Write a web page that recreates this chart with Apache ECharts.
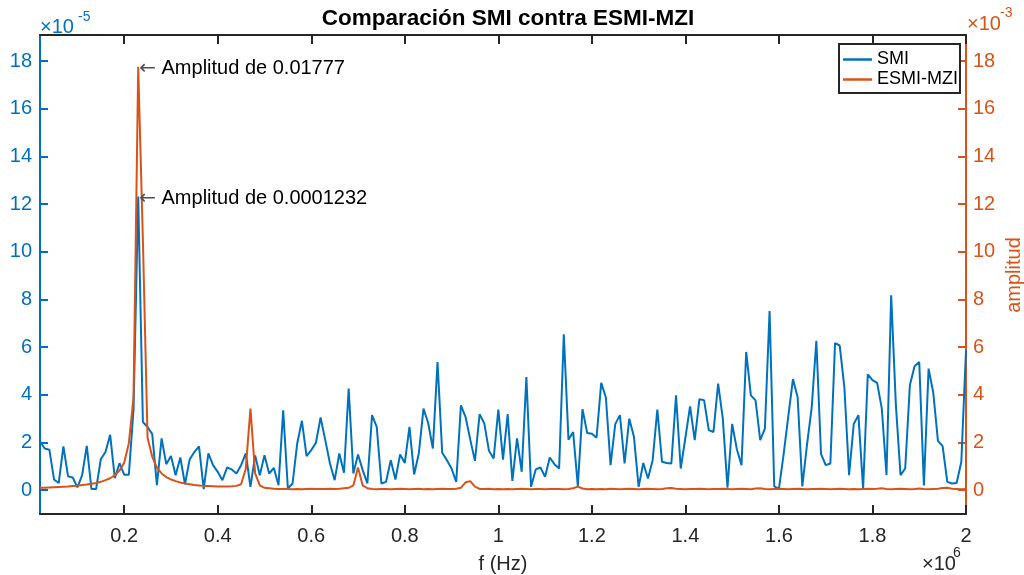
<!DOCTYPE html>
<html>
<head>
<meta charset="utf-8">
<script src="https://cdn.jsdelivr.net/npm/echarts@6/dist/echarts.min.js"></script>
<style>
html,body{margin:0;padding:0;background:#fff;}
#chart{width:1024px;height:575px;}
</style>
</head>
<body>
<div id="chart"></div>
<script>
// frequency in units of 1e6 Hz
const freq = [
0.02,0.03,0.04,0.05,0.06,0.07,0.08,0.09,0.10,0.11,
0.12,0.13,0.14,0.15,0.16,0.17,0.18,0.19,0.20,0.21,
0.22,0.23,0.24,0.25,0.26,0.27,0.28,0.29,0.30,0.31,
0.32,0.33,0.34,0.35,0.36,0.37,0.38,0.39,0.40,0.41,
0.42,0.43,0.44,0.45,0.46,0.47,0.48,0.49,0.50,0.51,
0.52,0.53,0.54,0.55,0.56,0.57,0.58,0.59,0.60,0.61,
0.62,0.63,0.64,0.65,0.66,0.67,0.68,0.69,0.70,0.71,
0.72,0.73,0.74,0.75,0.76,0.77,0.78,0.79,0.80,0.81,
0.82,0.83,0.84,0.85,0.86,0.87,0.88,0.89,0.90,0.91,
0.92,0.93,0.94,0.95,0.96,0.97,0.98,0.99,1.00,1.01,
1.02,1.03,1.04,1.05,1.06,1.07,1.08,1.09,1.10,1.11,
1.12,1.13,1.14,1.15,1.16,1.17,1.18,1.19,1.20,1.21,
1.22,1.23,1.24,1.25,1.26,1.27,1.28,1.29,1.30,1.31,
1.32,1.33,1.34,1.35,1.36,1.37,1.38,1.39,1.40,1.41,
1.42,1.43,1.44,1.45,1.46,1.47,1.48,1.49,1.50,1.51,
1.52,1.53,1.54,1.55,1.56,1.57,1.58,1.59,1.60,1.61,
1.62,1.63,1.64,1.65,1.66,1.67,1.68,1.69,1.70,1.71,
1.72,1.73,1.74,1.75,1.76,1.77,1.78,1.79,1.80,1.81,
1.82,1.83,1.84,1.85,1.86,1.87,1.88,1.89,1.90,1.91,
1.92,1.93,1.94,1.95,1.96,1.97,1.98,1.99,2.00
];
// SMI amplitude in units of 1e-5
const smi = [
2.05,1.75,1.7,0.45,0.3,1.84,0.58,0.53,0.12,0.62,
1.86,0.05,0.05,1.3,1.6,2.32,0.5,1.13,0.65,0.65,
3.4,12.32,2.86,2.65,2.35,0.21,2.17,1.09,1.43,0.63,
1.37,0.25,1.29,1.6,1.84,0.04,1.54,1.05,0.77,0.42,
0.95,0.87,0.7,1.05,1.54,0.14,1.46,0.63,1.47,0.7,
0.93,0.21,3.35,0.07,0.28,1.96,2.91,1.43,1.68,1.99,
3.05,2.1,1.12,0.42,1.54,0.73,4.26,0.7,1.5,0.84,
0.28,3.15,2.66,0.28,0.35,1.26,0.45,1.5,1.14,2.66,
0.66,1.54,3.42,2.82,1.75,5.38,1.57,1.26,0.91,0.35,
3.56,3.07,2.12,1.23,3.19,2.8,1.65,1.33,3.38,1.28,
3.19,0.39,2.17,0.77,4.75,0.14,0.87,0.95,0.56,1.37,
1.09,0.91,6.54,2.12,2.44,0.17,3.4,2.4,2.37,2.2,
4.5,3.89,1.05,2.77,3.15,1.12,3.0,2.24,0.14,1.14,
0.49,1.26,3.38,1.19,1.14,1.12,3.98,0.91,2.2,3.52,
2.1,3.82,3.77,2.52,2.44,4.47,3.0,0.1,2.78,1.72,
1.05,5.8,3.98,3.77,2.1,2.58,7.52,0.16,0.05,1.5,
3.1,4.66,3.9,0.16,1.9,3.45,6.27,1.52,1.05,1.12,
6.17,6.07,4.3,0.63,2.78,3.15,0.05,4.86,4.62,4.5,
3.42,0.63,8.18,3.6,0.63,0.91,4.4,5.2,5.38,0.2,
5.1,4.09,2.07,1.85,0.35,0.28,0.3,1.19,5.87
];
// ESMI-MZI amplitude in units of 1e-3
const esmi = [
0.1,0.1,0.11,0.12,0.13,0.14,0.15,0.17,0.19,0.22,
0.24,0.27,0.3,0.35,0.42,0.5,0.62,0.82,1.15,1.97,
3.9,17.77,10.5,2.2,1.4,0.95,0.7,0.55,0.45,0.38,
0.32,0.28,0.25,0.22,0.2,0.18,0.17,0.16,0.15,0.15,
0.15,0.16,0.18,0.25,0.9,3.42,0.7,0.2,0.1,0.08,
0.06,0.05,0.05,0.05,0.04,0.05,0.04,0.05,0.06,0.05,
0.05,0.05,0.06,0.05,0.06,0.08,0.1,0.2,0.95,0.2,
0.08,0.05,0.04,0.05,0.05,0.04,0.05,0.06,0.05,0.04,
0.05,0.06,0.04,0.05,0.04,0.05,0.06,0.05,0.05,0.06,
0.1,0.33,0.38,0.15,0.05,0.05,0.06,0.04,0.05,0.04,
0.05,0.04,0.05,0.06,0.05,0.04,0.05,0.05,0.04,0.05,
0.05,0.05,0.04,0.05,0.08,0.15,0.07,0.04,0.05,0.04,
0.05,0.04,0.06,0.05,0.04,0.05,0.06,0.05,0.04,0.05,
0.06,0.05,0.04,0.05,0.08,0.09,0.06,0.05,0.04,0.05,
0.05,0.06,0.05,0.04,0.05,0.05,0.06,0.05,0.04,0.05,
0.06,0.05,0.04,0.07,0.08,0.05,0.04,0.05,0.06,0.05,
0.04,0.05,0.06,0.05,0.04,0.05,0.05,0.06,0.05,0.04,
0.05,0.06,0.05,0.04,0.05,0.04,0.05,0.06,0.05,0.06,
0.08,0.05,0.04,0.05,0.06,0.05,0.04,0.05,0.07,0.05,
0.04,0.05,0.06,0.09,0.1,0.06,0.05,0.04,0.05
];
const xTicks = [0.2,0.4,0.6,0.8,1,1.2,1.4,1.6,1.8,2];
const yTicks = [0,2,4,6,8,10,12,14,16,18];
const titleText = 'Comparación SMI contra ESMI-MZI';
const peakLabelSmi = 'Amplitud de 0.0001232';
const peakLabelEsmi = 'Amplitud de 0.01777';

const BLUE = '#0072BD', ORANGE = '#D95319', DARK = '#262626';
const FONT = '"Liberation Sans", Arial, Helvetica, sans-serif';

const chart = echarts.init(document.getElementById('chart'), null, {renderer: 'canvas'});
const fmt = v => String(+(+v).toFixed(1));

const smiData = freq.map((f, i) => [f, smi[i]]);
const esmiData = freq.map((f, i) => [f, esmi[i]]);
const iPeakE = esmi.indexOf(Math.max(...esmi));
const iPeakS = smi.indexOf(Math.max(...smi));

function arrowLabel(text) {
  return {
    show: true, position: 'right', distance: 1, offset: [0, 2],
    formatter: '{a|←}{b| ' + text + '}',
    rich: {
      a: {fontSize: 20, color: '#505050', fontFamily: '"DejaVu Sans", sans-serif'},
      b: {fontSize: 20, color: '#000', fontFamily: FONT}
    }
  };
}

const option = {
  animation: false,
  backgroundColor: '#fff',
  textStyle: {fontFamily: FONT},
  title: {
    text: titleText, left: 503, top: 2, textAlign: 'center',
    textStyle: {fontSize: 22.5, fontWeight: 'bold', color: '#000', fontFamily: FONT}
  },
  grid: {left: 40, right: 58, top: 35, bottom: 61, containLabel: false, outerBoundsMode: 'none'},
  legend: {
    left: 839, top: 44, orient: 'vertical',
    data: ['SMI', 'ESMI-MZI'],
    backgroundColor: '#fff',
    borderColor: DARK, borderWidth: 2, borderRadius: 0,
    padding: [6, 2, 4, 4], itemGap: 1,
    itemWidth: 29, itemHeight: 2.5, icon: 'rect',
    textStyle: {fontSize: 18, color: '#000', fontFamily: FONT, lineHeight: 19}
  },
  xAxis: [{
    type: 'value', min: 0.02, max: 2, position: 'bottom',
    name: 'f (Hz)', nameLocation: 'middle', nameGap: 40,
    nameTextStyle: {fontSize: 20, color: DARK, fontFamily: FONT},
    axisLine: {show: true, onZero: false, lineStyle: {color: DARK, width: 2}},
    axisTick: {show: true, inside: true, length: 9, customValues: xTicks, lineStyle: {color: DARK, width: 2}},
    axisLabel: {show: true, customValues: xTicks, formatter: fmt, fontSize: 20, color: DARK, margin: 12, fontFamily: FONT},
    splitLine: {show: false}
  }, {
    type: 'value', min: 0.02, max: 2, position: 'top',
    axisLine: {show: true, onZero: false, lineStyle: {color: DARK, width: 2}},
    axisTick: {show: true, inside: true, length: 9, customValues: xTicks, lineStyle: {color: DARK, width: 2}},
    axisLabel: {show: false},
    splitLine: {show: false}
  }],
  yAxis: [{
    type: 'value', min: -1.0, max: 19.1, position: 'left',
    axisLine: {show: true, onZero: false, lineStyle: {color: BLUE, width: 2}},
    axisTick: {show: true, inside: true, length: 8, customValues: yTicks, lineStyle: {color: BLUE, width: 2}},
    axisLabel: {show: true, customValues: yTicks, fontSize: 20, color: BLUE, margin: 8, fontFamily: FONT},
    splitLine: {show: false}
  }, {
    type: 'value', min: -1.0, max: 19.1, position: 'right',
    axisLine: {show: true, onZero: false, lineStyle: {color: ORANGE, width: 2}},
    axisTick: {show: true, inside: true, length: 8, customValues: yTicks, lineStyle: {color: ORANGE, width: 2}},
    axisLabel: {show: true, customValues: yTicks, fontSize: 20, color: ORANGE, margin: 7, fontFamily: FONT},
    splitLine: {show: false}
  }],
  series: [{
    name: 'SMI', type: 'line', xAxisIndex: 0, yAxisIndex: 0,
    data: smiData, showSymbol: false, symbol: 'none',
    lineStyle: {color: BLUE, width: 2}, itemStyle: {color: BLUE},
    markPoint: {
      symbol: 'circle', symbolSize: 0, silent: true,
      data: [{coord: smiData[iPeakS], label: arrowLabel(peakLabelSmi)}]
    }
  }, {
    name: 'ESMI-MZI', type: 'line', xAxisIndex: 0, yAxisIndex: 1,
    data: esmiData, showSymbol: false, symbol: 'none',
    lineStyle: {color: ORANGE, width: 2}, itemStyle: {color: ORANGE},
    markPoint: {
      symbol: 'circle', symbolSize: 0, silent: true,
      data: [{coord: esmiData[iPeakE], label: arrowLabel(peakLabelEsmi)}]
    }
  }],
  graphic: [
    {type: 'text', left: 40, top: 17, style: {text: '×10', fontSize: 20, fill: BLUE, fontFamily: FONT}},
    {type: 'text', left: 78, top: 10, style: {text: '-5', fontSize: 14, fill: BLUE, fontFamily: FONT}},
    {type: 'text', left: 967, top: 14, style: {text: '×10', fontSize: 20, fill: ORANGE, fontFamily: FONT}},
    {type: 'text', left: 1000, top: 6, style: {text: '-3', fontSize: 14, fill: ORANGE, fontFamily: FONT}},
    {type: 'text', left: 922, top: 554, style: {text: '×10', fontSize: 20, fill: DARK, fontFamily: FONT}},
    {type: 'text', left: 953, top: 546, style: {text: '6', fontSize: 14, fill: DARK, fontFamily: FONT}},
    {type: 'text', x: 1014, y: 275, rotation: Math.PI / 2,
     style: {text: 'amplitud', fontSize: 20, fill: ORANGE, fontFamily: FONT, align: 'center', verticalAlign: 'middle'}}
  ]
};
chart.setOption(option);
</script>
</body>
</html>
